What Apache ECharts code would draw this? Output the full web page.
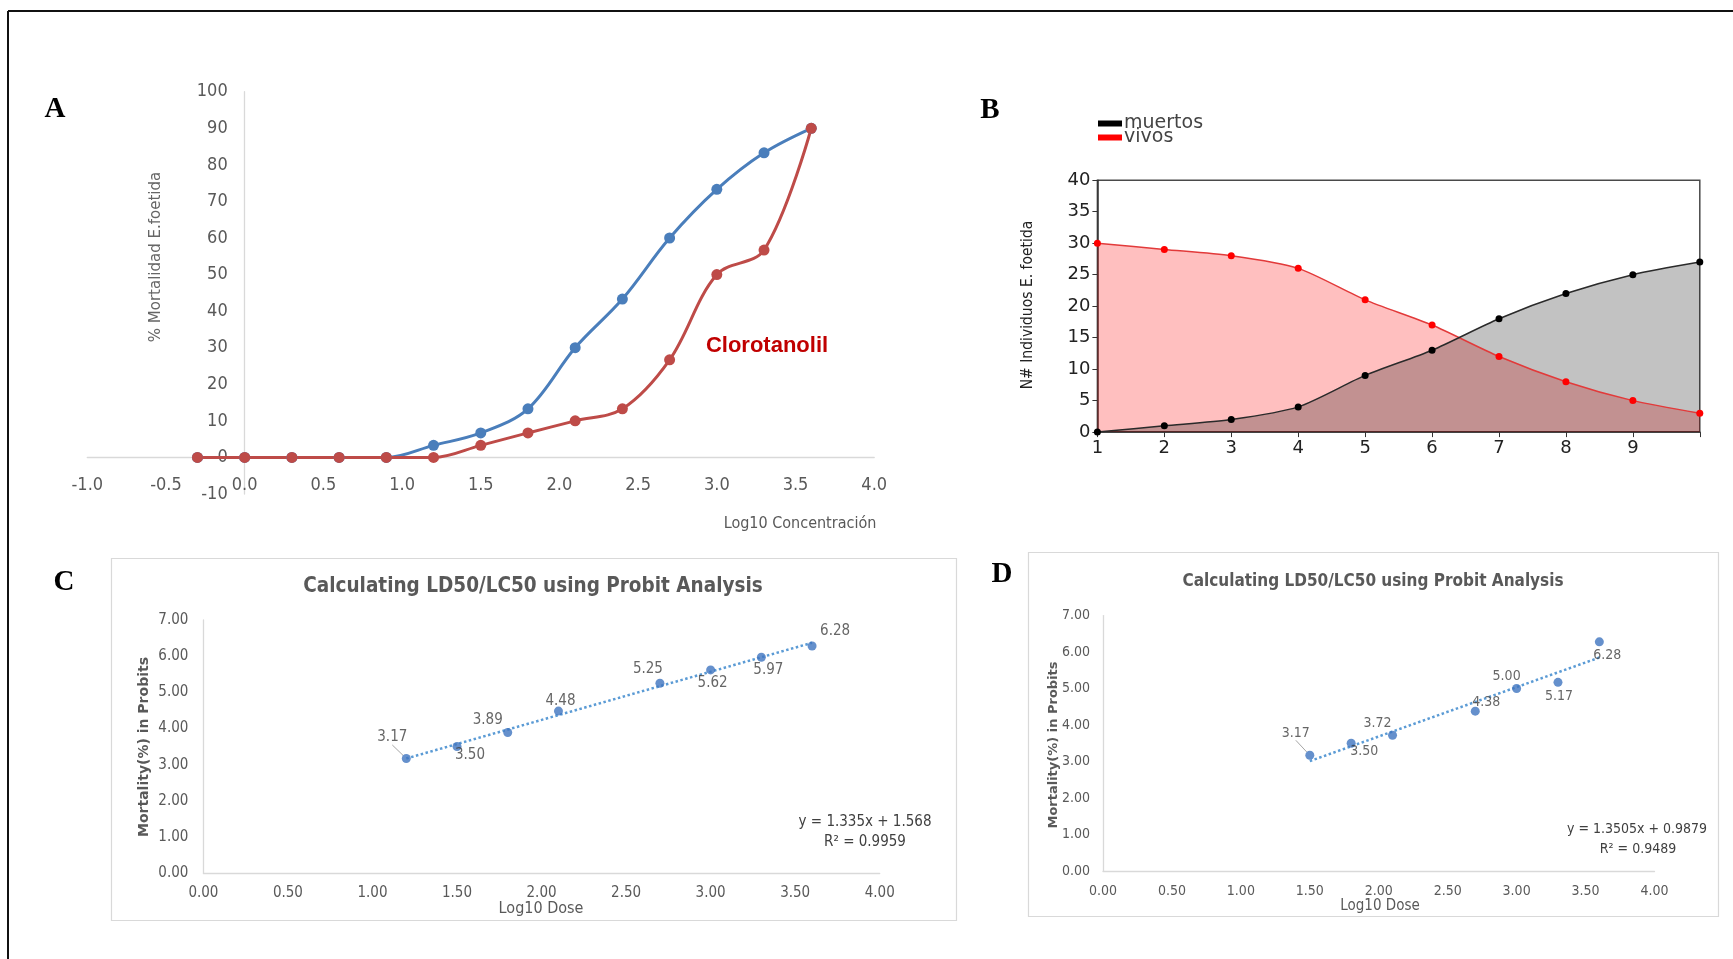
<!DOCTYPE html>
<html>
<head>
<meta charset="utf-8">
<script src="https://cdn.jsdelivr.net/npm/echarts@6/dist/echarts.min.js"></script>
<style>
html,body{margin:0;padding:0;background:#fff;}
#c{width:1733px;height:959px;}
</style>
</head>
<body>
<div id="c"></div>
<script>
// ---------- DATA ----------
// Panel A
const aX = [-0.3, 0, 0.3, 0.6, 0.9, 1.2, 1.5, 1.8, 2.1, 2.4, 2.7, 3.0, 3.3, 3.6];
const aBlue = [0, 0, 0, 0, 0, 3.3, 6.7, 13.3, 30, 43.3, 60, 73.3, 83.3, 90];
const aRed = [0, 0, 0, 0, 0, 0, 3.3, 6.7, 10, 13.3, 26.7, 50, 56.7, 90];
// Panel B
const bX = [1, 2, 3, 4, 5, 6, 7, 8, 9, 10];
const bMuertos = [0, 1, 2, 4, 9, 13, 18, 22, 25, 27];
const bVivos = [30, 29, 28, 26, 21, 17, 12, 8, 5, 3];
const bXTicks = [1, 2, 3, 4, 5, 6, 7, 8, 9];
// Panel C
const cX = [1.2, 1.5, 1.8, 2.1, 2.7, 3.0, 3.3, 3.6];
const cY = [3.17, 3.50, 3.89, 4.48, 5.25, 5.62, 5.97, 6.28];
const cTrend = [[1.2, 3.17], [3.6, 6.37]];
const cEq = ['y = 1.335x + 1.568', 'R² = 0.9959'];
// Panel D
const dX = [1.5, 1.8, 2.1, 2.7, 3.0, 3.3, 3.6];
const dY = [3.17, 3.50, 3.72, 4.38, 5.00, 5.17, 6.28];
const dTrend = [[1.5, 3.01], [3.6, 5.85]];
const dEq = ['y = 1.3505x + 0.9879', 'R² = 0.9489'];
const probitTitle = 'Calculating LD50/LC50 using Probit Analysis';

// ---------- STYLE / LAYOUT ----------
const NARROW = '"Liberation Sans Narrow","DejaVu Sans Condensed","Liberation Sans",sans-serif';
const SANS = '"Liberation Sans",Arial,sans-serif';
const GREY = '#595959';
const cOff = [[-14,-21],[13,9],[-20,-12],[2,-10],[-12,-14],[2,13],[7,13],[23,-15]];
const dOff = [[-14,-22],[13,8],[-15,-12],[11,-9],[-10,-12],[1,14],[8,13]];

// Panel A grid geometry (axes cross at the origin)
const A_GRID = {left:87.3, top:91.7, width:786.9, height:402.3};
const A_XMIN = -1, A_XMAX = 4, A_YMIN = -10, A_YMAX = 100;
const aYOffset = -A_GRID.width * (0 - A_XMIN) / (A_XMAX - A_XMIN);
const aXOffset = -A_GRID.height * (0 - A_YMIN) / (A_YMAX - A_YMIN);

const chart = echarts.init(document.getElementById('c'), null, {renderer:'canvas'});

function pairs(xs, ys){ return xs.map((x,i)=>[x, ys[i]]); }

function excelAxis(idx, min, max, interval, fmt, size, margin){
  return {
    type:'value', gridIndex:idx, min:min, max:max, interval:interval,
    axisLine:{show:true, onZero:false, lineStyle:{color:'#d9d9d9', width:1.3}},
    axisTick:{show:false}, splitLine:{show:false},
    axisLabel:{color:GREY, fontFamily:NARROW, fontSize:size, margin:margin, formatter:fmt}
  };
}

function txt(x, y, text, font, fill, rot, align){
  return {type:'text', x:x, y:y, rotation:rot||0, silent:true,
    style:{text:text, font:font, fill:fill, align:align||'center', verticalAlign:'middle'}};
}

const xA = excelAxis(0, A_XMIN, A_XMAX, 0.5, v=>v.toFixed(1), 18, 19);
xA.position = 'bottom'; xA.offset = aXOffset;
const yA = excelAxis(0, A_YMIN, A_YMAX, 10, v=>String(v), 18, 17);
yA.position = 'left'; yA.offset = aYOffset;

const option = {
  animation:false,
  backgroundColor:'#fff',
  grid:[
    A_GRID,
    {left:1097.4, top:180.2, width:602.4, height:251.9, show:true, borderColor:'#4a4a4a', borderWidth:1.5, backgroundColor:'transparent'},
    {left:203.4, top:620.0, width:676.3, height:253.1},
    {left:1103.0, top:615.6, width:551.5, height:255.3}
  ],
  legend:{
    data:['muertos','vivos'], orient:'vertical', left:1093, top:109,
    icon:'rect', itemWidth:24, itemHeight:6, itemGap:-5, selectedMode:false,
    textStyle:{fontFamily:'"DejaVu Sans",Verdana,sans-serif', fontSize:19, color:'#444', padding:[0,0,0,-3]}
  },
  xAxis:[
    xA,
    {type:'value', gridIndex:1, min:1, max:10, interval:1,
      axisLine:{show:true, lineStyle:{color:'#333', width:1.5}},
      axisTick:{show:true, length:5, lineStyle:{color:'#333'}},
      splitLine:{show:false},
      axisLabel:{color:'#222', fontFamily:'"DejaVu Sans",sans-serif', fontSize:18, margin:7,
        formatter:v=> bXTicks.indexOf(v) >= 0 ? String(v) : ''}},
    excelAxis(2, 0, 4, 0.5, v=>v.toFixed(2), 15, 13),
    excelAxis(3, 0, 4, 0.5, v=>v.toFixed(2), 14, 13)
  ],
  yAxis:[
    yA,
    {type:'value', gridIndex:1, min:0, max:40, interval:5,
      axisLine:{show:true, lineStyle:{color:'#333', width:1.5}},
      axisTick:{show:true, length:5, lineStyle:{color:'#333'}},
      splitLine:{show:false},
      axisLabel:{color:'#222', fontFamily:'"DejaVu Sans",sans-serif', fontSize:18, margin:7}},
    excelAxis(2, 0, 7, 1, v=>v.toFixed(2), 15, 15),
    excelAxis(3, 0, 7, 1, v=>v.toFixed(2), 14, 13)
  ],
  series:[
    // Panel A
    {name:'Serie 1', type:'line', xAxisIndex:0, yAxisIndex:0, data:pairs(aX, aBlue),
      smooth:0.35, symbol:'circle', symbolSize:11,
      lineStyle:{color:'#4a7ebb', width:3}, itemStyle:{color:'#4a7ebb'}},
    {name:'Clorotanolil', type:'line', xAxisIndex:0, yAxisIndex:0, data:pairs(aX, aRed),
      smooth:0.35, symbol:'circle', symbolSize:11,
      lineStyle:{color:'#be4b48', width:3}, itemStyle:{color:'#be4b48'}},
    // Panel B
    {name:'vivos', type:'line', xAxisIndex:1, yAxisIndex:1, data:pairs(bX, bVivos),
      smooth:0.25, symbol:'circle', symbolSize:7, color:'#ff0000',
      lineStyle:{color:'#e23a3a', width:1.5}, itemStyle:{color:'#ff0000'},
      areaStyle:{color:'rgba(255,0,0,0.25)', opacity:1}},
    {name:'muertos', type:'line', xAxisIndex:1, yAxisIndex:1, data:pairs(bX, bMuertos),
      smooth:0.25, symbol:'circle', symbolSize:7, color:'#000000',
      lineStyle:{color:'#2a2a2a', width:1.5}, itemStyle:{color:'#000000'},
      areaStyle:{color:'rgba(0,0,0,0.24)', opacity:1}},
    // Panel C
    {name:'trendC', type:'line', xAxisIndex:2, yAxisIndex:2, data:cTrend, symbol:'none',
      lineStyle:{color:'#5b9bd5', width:2.5, type:[2.5,2.5]}, z:2},
    {name:'probitC', type:'scatter', xAxisIndex:2, yAxisIndex:2,
      data:pairs(cX, cY).map((p,i)=>({value:p, labelLine:{show:i===0}})),
      symbol:'circle', symbolSize:9, itemStyle:{color:'#3f74bf'}, z:3,
      label:{show:true, position:'inside', formatter:p=>p.value[1].toFixed(2),
        color:'#404040', fontFamily:NARROW, fontSize:15},
      labelLine:{show:false, lineStyle:{color:'#a6a6a6', width:1}, length2:0},
      labelLayout:p=>({dx:cOff[p.dataIndex][0], dy:cOff[p.dataIndex][1]})},
    // Panel D
    {name:'trendD', type:'line', xAxisIndex:3, yAxisIndex:3, data:dTrend, symbol:'none',
      lineStyle:{color:'#5b9bd5', width:2.5, type:[2.5,2.5]}, z:2},
    {name:'probitD', type:'scatter', xAxisIndex:3, yAxisIndex:3,
      data:pairs(dX, dY).map((p,i)=>({value:p, labelLine:{show:i===0}})),
      symbol:'circle', symbolSize:9, itemStyle:{color:'#3f74bf'}, z:3,
      label:{show:true, position:'inside', formatter:p=>p.value[1].toFixed(2),
        color:'#404040', fontFamily:NARROW, fontSize:14},
      labelLine:{show:false, lineStyle:{color:'#a6a6a6', width:1}, length2:0},
      labelLayout:p=>({dx:dOff[p.dataIndex][0], dy:dOff[p.dataIndex][1]})}
  ],
  graphic:[
    // outer frame
    {type:'line', shape:{x1:8, y1:11, x2:1733, y2:11}, style:{stroke:'#111', lineWidth:2}, silent:true},
    {type:'line', shape:{x1:8, y1:11, x2:8, y2:959}, style:{stroke:'#111', lineWidth:2}, silent:true},
    // panel boxes C / D
    {type:'rect', shape:{x:111.5, y:558.5, width:845, height:362}, style:{fill:'none', stroke:'#d9d9d9', lineWidth:1.2}, silent:true, z:-1},
    {type:'rect', shape:{x:1028.5, y:552.5, width:690, height:364}, style:{fill:'none', stroke:'#d9d9d9', lineWidth:1.2}, silent:true, z:-1},
    // panel letters
    txt(55, 110, 'A', 'bold 29px "Liberation Serif","Times New Roman",serif', '#000'),
    txt(990, 111, 'B', 'bold 29px "Liberation Serif","Times New Roman",serif', '#000'),
    txt(64, 583, 'C', 'bold 29px "Liberation Serif","Times New Roman",serif', '#000'),
    txt(1002, 575, 'D', 'bold 29px "Liberation Serif","Times New Roman",serif', '#000'),
    // Panel A texts
    txt(156, 257, '% Mortalidad E.foetida', '15px "DejaVu Sans",Verdana,sans-serif', '#666', Math.PI/2),
    txt(800, 524, 'Log10 Concentración', '16px ' + NARROW, GREY),
    txt(767, 346, 'Clorotanolil', 'bold 22px ' + SANS, '#c00000'),
    // Panel B text
    txt(1028, 305, 'N# Individuos E. foetida', '15.5px ' + NARROW, '#222', Math.PI/2),
    // Panel C texts
    txt(533, 587, probitTitle, 'bold 20.5px ' + NARROW, GREY),
    txt(144, 747, 'Mortality(%) in Probits', 'bold 14px "DejaVu Sans",Verdana,sans-serif', GREY, Math.PI/2),
    txt(541, 909, 'Log10 Dose', '16px ' + NARROW, GREY),
    txt(865, 822, cEq[0], '15px ' + NARROW, '#404040'),
    txt(865, 842, cEq[1], '15px ' + NARROW, '#404040'),
    // Panel D texts
    txt(1373, 582, probitTitle, 'bold 17px ' + NARROW, GREY),
    txt(1054, 745, 'Mortality(%) in Probits', 'bold 13px "DejaVu Sans",Verdana,sans-serif', GREY, Math.PI/2),
    txt(1380, 906, 'Log10 Dose', '15px ' + NARROW, GREY),
    txt(1637, 829, dEq[0], '14px ' + NARROW, '#404040'),
    txt(1638, 849, dEq[1], '14px ' + NARROW, '#404040')
  ]
};
chart.setOption(option);
</script>
</body>
</html>
